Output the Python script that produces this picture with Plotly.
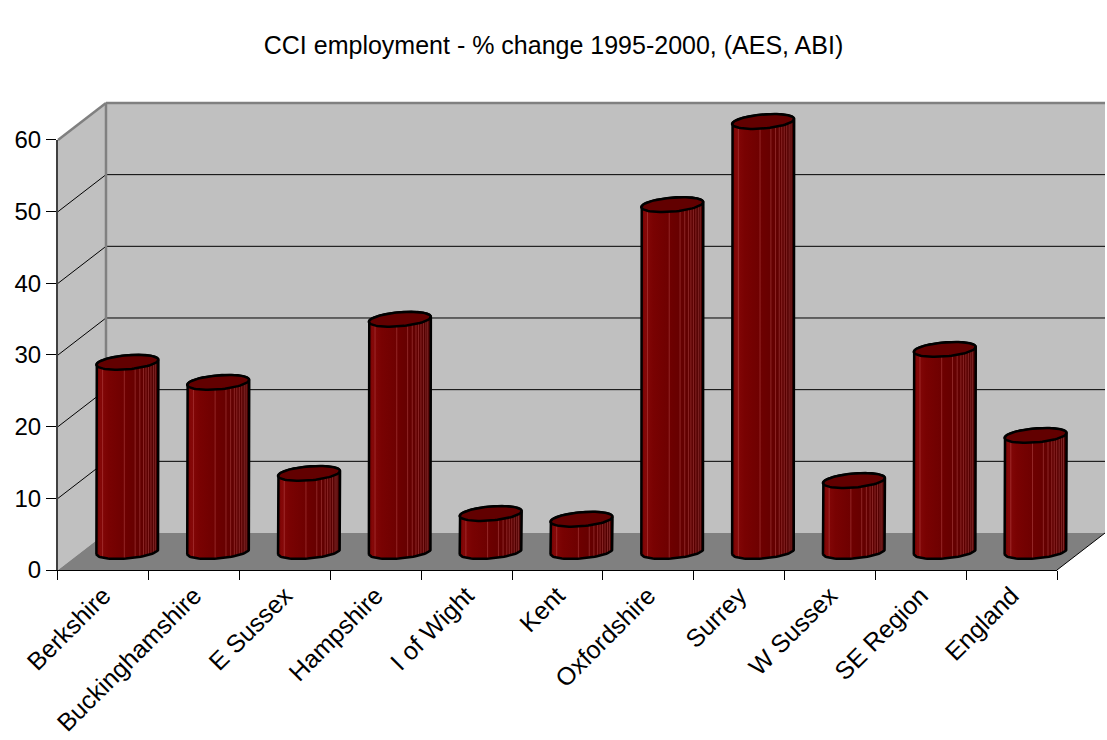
import numpy as np
import plotly.graph_objects as go

# ---- data -------------------------------------------------------------
regions = ["Berkshire", "Buckinghamshire", "E Sussex", "Hampshire", "I of Wight",
           "Kent", "Oxfordshire", "Surrey", "W Sussex", "SE Region", "England"]
pct_change = [26.4, 23.6, 10.9, 32.4, 5.3, 4.5, 48.4, 60.0, 9.9, 28.2, 16.2]
y_ticks = [0, 10, 20, 30, 40, 50, 60]
title = "CCI employment - % change 1995-2000, (AES, ABI)"

# ---- geometry (pixels) -----------------------------------------------
W, H = 1107, 740
CAT_W = 90.82          # width of one category slot
UNIT = 7.167           # pixels per percentage point
X0 = 127.4             # centre of first cylinder (mid-depth plane)
Y0 = 551.5             # zero level on the mid-depth plane
DEPTH_PX_X, DEPTH_PX_Y = 24.0, 18.5   # half depth of the oblique box

DX = DEPTH_PX_X / CAT_W
DY = DEPTH_PX_Y / UNIT
YMAX = y_ticks[-1]
n = len(regions)
left, right = -0.5, n - 0.5

x_range = [(0 - X0) / CAT_W, (W - X0) / CAT_W]
y_range = [(Y0 - H) / UNIT, Y0 / UNIT]


def px_x(x):
    return X0 + CAT_W * x


def px_y(v):
    return Y0 - UNIT * v


# cylinder proportions
A = 31.0 / CAT_W       # half width
B = 7.0 / UNIT         # half height of the end ellipses
S = 2.5 / UNIT         # slight tilt of the ellipses

WALL = "#C0C0C0"
FLOOR = "#808080"
EDGE = "#808080"

fig = go.Figure()

shapes = []


def poly(pts, fill, line_color=None, width=0):
    path = "M " + " L ".join(f"{x},{y}" for x, y in pts) + " Z"
    return dict(type="path", path=path, xref="x", yref="y", layer="below",
                fillcolor=fill, line=dict(color=line_color or fill, width=width))


def seg(p, q, color, width):
    return dict(type="line", x0=p[0], y0=p[1], x1=q[0], y1=q[1], xref="x", yref="y",
                layer="below", line=dict(color=color, width=width))


# side wall, back wall, floor
shapes.append(poly([(left - DX, -DY), (left - DX, YMAX - DY), (left + DX, YMAX + DY),
                    (left + DX, DY)], WALL))
shapes.append(poly([(left + DX, DY), (left + DX, YMAX + DY), (right + DX, YMAX + DY),
                    (right + DX, DY)], WALL))
shapes.append(poly([(left - DX, -DY), (right - DX, -DY), (right + DX, DY),
                    (left + DX, DY)], FLOOR))

# gridlines on back and side wall
for v in y_ticks[1:-1]:
    shapes.append(seg((left + DX, v + DY), (right + DX, v + DY), "black", 1))
    shapes.append(seg((left - DX, v - DY), (left + DX, v + DY), "black", 1))

# wall edges
shapes.append(seg((left + DX, DY), (left + DX, YMAX + DY), EDGE, 2.5))
shapes.append(seg((left + DX, YMAX + DY), (right + DX, YMAX + DY), EDGE, 2.5))
shapes.append(seg((left - DX, YMAX - DY), (left + DX, YMAX + DY), EDGE, 2.5))
shapes.append(seg((right - DX, -DY), (right + DX, DY), "black", 1))

# ---- cylinders ----------------------------------------------------------
body_scale = [[0.0, "#6c0000"], [0.06, "#850808"], [0.2, "#790202"],
              [0.5, "#6c0000"], [0.8, "#5f0000"], [1.0, "#480000"]]

t_back = np.linspace(np.pi, 0, 40)        # upper (back) arc, left -> right
t_front = np.linspace(0, -np.pi, 40)      # lower (front) arc, right -> left
t_full = np.linspace(0, 2 * np.pi, 80)

outline_x, outline_y = [], []
top_x, top_y = [], []
stripe_x, stripe_y = [], []
stripe_pos = [-0.8, -0.1, 0.25, 0.4, 0.52, 0.6, 0.68, 0.76, 0.84, 0.9]

for i, v in enumerate(pct_change):
    xc = i
    bx = ([xc - A, xc - A]
          + list(xc + A * np.cos(t_back))
          + [xc + A]
          + list(xc + A * np.cos(t_front)))
    by = ([-S, v - S]
          + list(v + B * np.sin(t_back) + S * np.cos(t_back))
          + [S]
          + list(B * np.sin(t_front) + S * np.cos(t_front)))
    fig.add_trace(go.Scatter(
        x=bx, y=by, mode="none", fill="toself",
        fillgradient=dict(type="horizontal", colorscale=body_scale),
        hoverinfo="skip", showlegend=False))
    outline_x += bx + [bx[0], None]
    outline_y += by + [by[0], None]

    for f in stripe_pos:
        off = -B * np.sqrt(1 - f * f) + S * f
        stripe_x += [xc + A * f, xc + A * f, None]
        stripe_y += [off, v + off, None]

    top_x += list(xc + A * np.cos(t_full)) + [None]
    top_y += list(v + B * np.sin(t_full) + S * np.cos(t_full)) + [None]

fig.add_trace(go.Scatter(x=stripe_x, y=stripe_y, mode="lines",
                         line=dict(color="rgba(215,110,110,0.35)", width=1),
                         hoverinfo="skip", showlegend=False))
fig.add_trace(go.Scatter(x=outline_x, y=outline_y, mode="lines",
                         line=dict(color="black", width=2.5),
                         hoverinfo="skip", showlegend=False))
fig.add_trace(go.Scatter(x=top_x, y=top_y, mode="lines", fill="toself",
                         fillcolor="#620000", line=dict(color="black", width=2.5),
                         hoverinfo="skip", showlegend=False))

# front axes carrying the category labels and the value scale
fig.add_trace(go.Scatter(x=regions, y=pct_change, xaxis="x2", yaxis="y2",
                         mode="markers", marker=dict(opacity=0),
                         hoverinfo="skip", showlegend=False))

x2_dom = [px_x(left - DX) / W, px_x(right - DX) / W]
y2_dom = [(H - px_y(-DY)) / H, (H - px_y(YMAX - DY)) / H]

FONT = "Liberation Sans, Arial, sans-serif"

fig.update_layout(
    width=W, height=H, autosize=False,
    margin=dict(l=0, r=0, t=0, b=0, pad=0, autoexpand=False),
    paper_bgcolor="white", plot_bgcolor="rgba(0,0,0,0)",
    hovermode=False,
    shapes=shapes,
    title=dict(text=title, x=0.5, xanchor="center", y=1 - 45 / H, yanchor="middle",
               font=dict(family=FONT, size=25, color="black"), automargin=False),
    xaxis=dict(range=x_range, domain=[0, 1], visible=False, fixedrange=True,
               automargin=False),
    yaxis=dict(range=y_range, domain=[0, 1], visible=False, fixedrange=True,
               automargin=False),
    xaxis2=dict(domain=x2_dom, anchor="y2", type="category", categoryarray=regions,
                categoryorder="array", range=[left, right], tickson="boundaries",
                ticks="outside", ticklen=9, tickcolor="black", tickwidth=1,
                showline=True, linecolor="black", linewidth=1, showgrid=False,
                zeroline=False, tickangle=-45, fixedrange=True, automargin=False,
                tickfont=dict(family=FONT, size=25, color="black")),
    yaxis2=dict(domain=y2_dom, anchor="x2", range=[0, YMAX], tickvals=y_ticks,
                ticks="outside", ticklen=10, tickcolor="black", tickwidth=1,
                showline=True, linecolor="#404040", linewidth=2, showgrid=False,
                zeroline=False, fixedrange=True, automargin=False,
                tickfont=dict(family=FONT, size=24, color="black")),
)

fig.write_html("out.html")
